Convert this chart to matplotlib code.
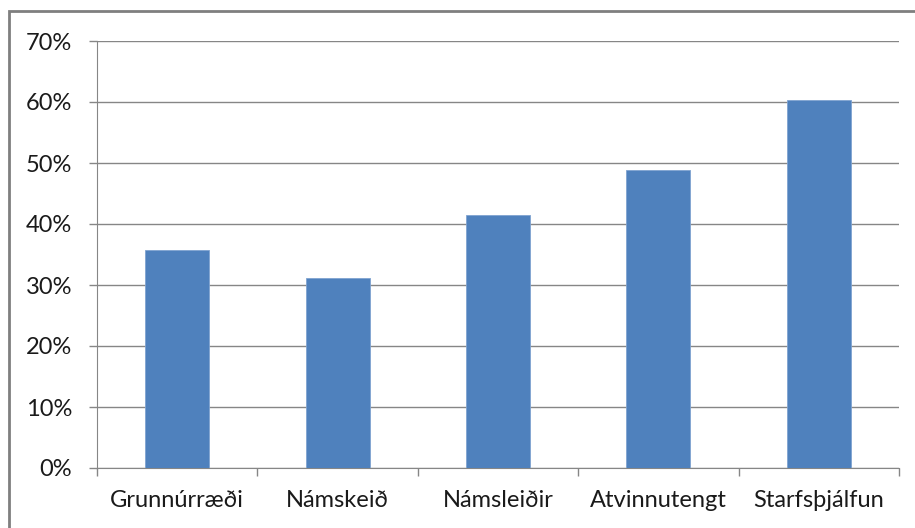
import matplotlib
matplotlib.use("Agg")
import matplotlib.pyplot as plt
from matplotlib.patches import Rectangle
import numpy as np

categories = ["Grunnúrræði", "Námskeið", "Námsleiðir", "Atvinnutengt", "Starfsþjálfun"]
values = [35.7, 31.1, 41.5, 48.9, 60.4]
yticks = [0, 10, 20, 30, 40, 50, 60, 70]
ytick_labels = [f"{t}%" for t in yticks]

plt.rcParams['font.family'] = ['Lato', 'DejaVu Sans']

fig = plt.figure(figsize=(9.15, 5.28), dpi=100)
ax = fig.add_axes([97/915, 60/528, (899-97)/915, (468-41)/528])

grid_c = "#868686"
x = np.arange(len(categories))
ax.bar(x, values, width=0.4, color="#4F81BD", edgecolor="#7FA3D0", linewidth=0.6, zorder=3)

ax.set_xlim(-0.5, len(categories) - 0.5)
ax.set_ylim(0, 70)
ax.set_yticks(yticks)
ax.set_yticklabels(ytick_labels, fontsize=17, color="#1a1a1a")
ax.yaxis.grid(True, color=grid_c, linewidth=1, zorder=0)

ax.set_xticks(x)
ax.set_xticklabels(categories, fontsize=17, color="#1a1a1a")
ax.set_xticks(np.arange(-0.5, len(categories)), minor=True)
ax.tick_params(axis='x', which='major', length=0, pad=16)
ax.tick_params(axis='x', which='minor', length=6, color=grid_c, width=1)
ax.tick_params(axis='y', length=6, color=grid_c, width=1, pad=12)

for s in ["top", "right"]:
    ax.spines[s].set_visible(False)
ax.spines["left"].set_color(grid_c)
ax.spines["bottom"].set_color(grid_c)

fig.patches.append(Rectangle((9/915, -0.1), 1.2, 1 - 11/528 + 0.1, transform=fig.transFigure,
                             fill=False, edgecolor="#7f7f7f", linewidth=2))

fig.savefig("out.png", dpi=100)
